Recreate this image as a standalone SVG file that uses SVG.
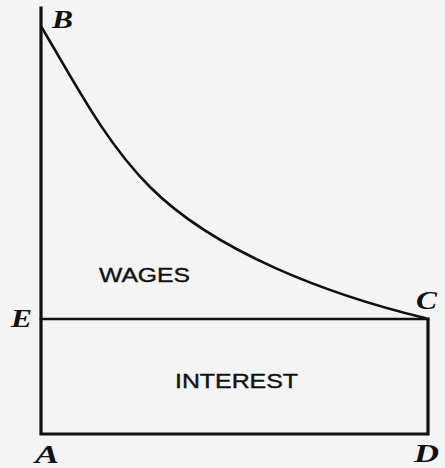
<svg xmlns="http://www.w3.org/2000/svg" width="445" height="468" viewBox="0 0 445 468">
<style>
.ln{fill:none;stroke:#111;stroke-linecap:square;stroke-linejoin:miter}
.pt{font-family:"Liberation Serif","Times New Roman",serif;font-weight:bold;font-style:italic;font-size:26px;fill:#111}
.rg{font-family:"Liberation Sans",Arial,sans-serif;font-size:21px;fill:#111;stroke:#111;stroke-width:0.4}
</style>
<rect width="445" height="468" fill="#f4f4f4"/>
<g id="connectors">
<path class="ln" stroke-width="3.2" d="M41 8 V434 H428 V319"/>
<path class="ln" stroke-width="2.6" d="M41 319 H428"/>
<path class="ln" stroke-width="2.6" d="M42 28 C75 83 105 142 150 187 C215 252 328 294.5 425 318"/>
</g>
<g id="B"><text class="pt" x="52" y="28" textLength="21" lengthAdjust="spacingAndGlyphs">B</text></g>
<g id="E"><text class="pt" x="11" y="327" textLength="21" lengthAdjust="spacingAndGlyphs">E</text></g>
<g id="A"><text class="pt" x="35" y="463" textLength="24" lengthAdjust="spacingAndGlyphs">A</text></g>
<g id="C"><text class="pt" x="416" y="309" textLength="21" lengthAdjust="spacingAndGlyphs">C</text></g>
<g id="D"><text class="pt" x="414" y="462" textLength="25" lengthAdjust="spacingAndGlyphs">D</text></g>
<g id="wages"><text class="rg" x="99" y="282" textLength="91" lengthAdjust="spacingAndGlyphs">WAGES</text></g>
<g id="interest"><text class="rg" x="175" y="388" textLength="123" lengthAdjust="spacingAndGlyphs">INTEREST</text></g>
</svg>
